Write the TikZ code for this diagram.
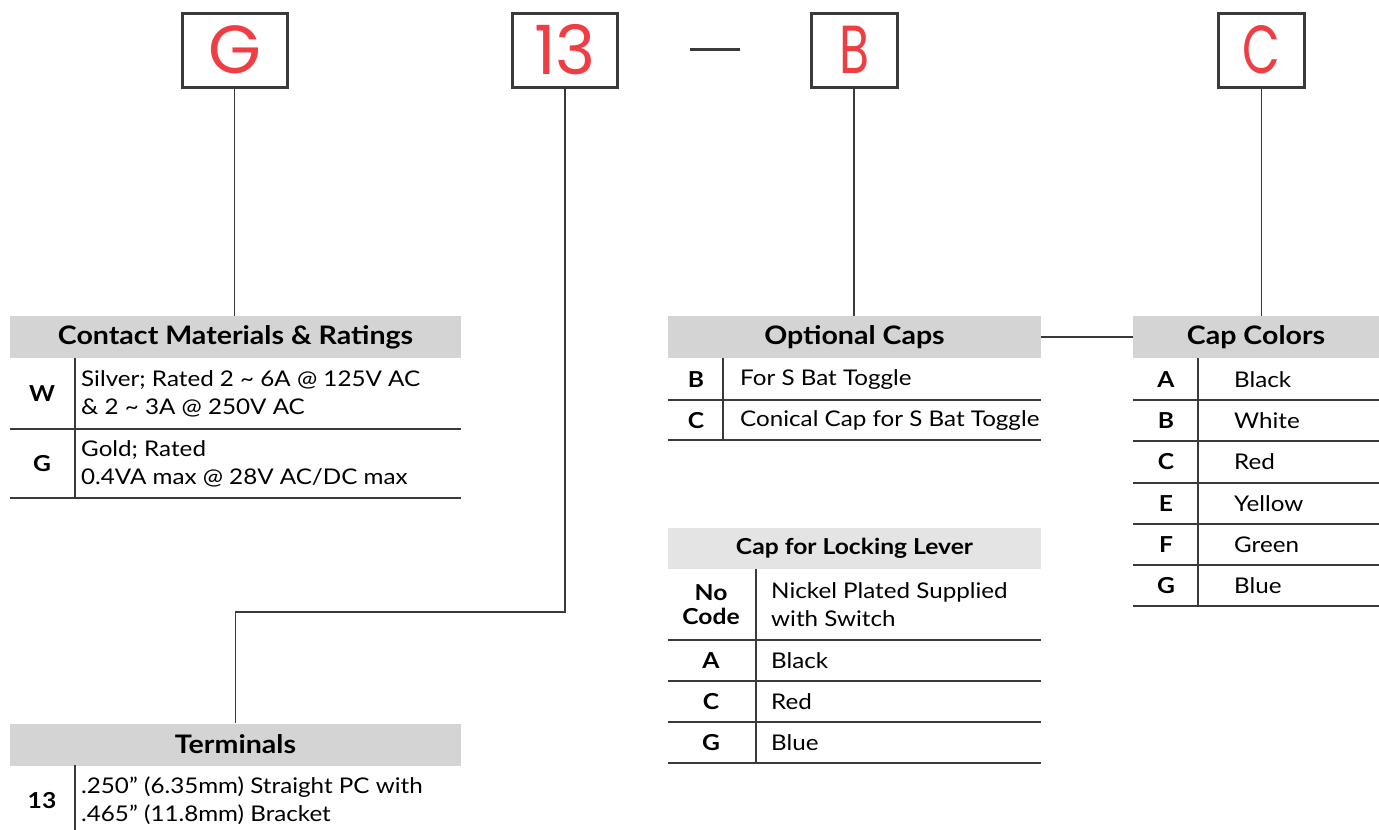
\documentclass[tikz,border=0pt]{standalone}
\usepackage{fontspec}
\setmainfont{Lato}[FakeStretch=1.12]
\newfontfamily\redfont{Poppins}
\newfontfamily\redcond[FakeStretch=0.72]{Poppins}
\usepackage{tikz}
\usetikzlibrary{positioning,calc}
\definecolor{capred}{HTML}{EE3E44}
\definecolor{headgray}{HTML}{D4D4D5}
\definecolor{headlight}{HTML}{E4E4E5}
\definecolor{rulegray}{HTML}{3A3A3A}

\begin{document}
\begin{tikzpicture}[
  x=1pt,y=-1pt,
  part/.style={draw=rulegray,line width=3pt,minimum width=105pt,minimum height=74pt,
    inner sep=0pt,text=capred,font=\redfont\fontsize{68}{68}\selectfont},
  narrowpart/.style={part,minimum width=86pt,font=\redcond\fontsize{68}{68}\selectfont},
  head/.style={fill=headgray,minimum height=42pt,inner sep=0pt,
    font=\bfseries\fontsize{25.5}{25.5}\selectfont},
  smallhead/.style={head,fill=headlight,minimum height=41pt,font=\bfseries\fontsize{22}{22}\selectfont},
  code/.style={font=\bfseries\fontsize{22}{24}\selectfont,align=center},
  desc/.style={anchor=west,inner sep=0pt,align=left,font=\fontsize{21.6}{28}\selectfont},
  rowline/.style={draw=rulegray,line width=1.4pt},
  link/.style={draw=rulegray,line width=1.2pt}]
\useasboundingbox (0,0) rectangle (1379,830);
% part number boxes
\node[part] (pg) at (234.5,50) {G};
\node[part] (p13) at (565,50) {13};
\draw[line width=3pt,rulegray] (690,49) -- (740,49);
\node[narrowpart] (pb) at (854,50) {B};
\node[narrowpart] (pc) at (1261.5,50) {C};
% Contact Materials & Ratings
\node[head,minimum width=451pt] (cmhead) at (235.5,337) {Contact Materials \& Ratings};
\node[code] (cmw) at (42,394) {W};
\node[desc] (cmwt) at (81,394) {Silver; Rated 2 \textasciitilde{} 6A @ 125V AC\\\& 2 \textasciitilde{} 3A @ 250V AC};
\node[code] (cmg) at (42,464) {G};
\node[desc] (cmgt) at (81,464) {Gold; Rated\\0.4VA max @ 28V AC/DC max};
\draw[rowline] (10,429) -- (461,429) (10,498) -- (461,498) (75,358) -- (75,498);
% Optional Caps
\node[head,minimum width=373pt] (ochead) at (854.5,337) {Optional Caps};
\node[code] (ocb) at (696,380) {B};
\node[desc] (ocbt) at (740,380) {For S Bat Toggle};
\node[code] (occ) at (696,421) {C};
\node[desc] (occt) at (740,421) {Conical Cap for S Bat Toggle};
\draw[rowline] (668,400) -- (1041,400) (668,440) -- (1041,440) (723,358) -- (723,440);
% Cap Colors
\node[head,minimum width=246pt] (cchead) at (1256,337) {Cap Colors};
\node[code] (cca) at (1166,380) {A};  \node[desc] (ccat) at (1234,380) {Black};
\node[code] (ccb) at (1166,421) {B};  \node[desc] (ccbt) at (1234,421) {White};
\node[code] (ccc) at (1166,462) {C};  \node[desc] (ccct) at (1234,462) {Red};
\node[code] (cce) at (1166,504) {E};  \node[desc] (ccet) at (1234,504) {Yellow};
\node[code] (ccf) at (1166,545) {F};  \node[desc] (ccft) at (1234,545) {Green};
\node[code] (ccg) at (1166,586) {G};  \node[desc] (ccgt) at (1234,586) {Blue};
\foreach \y in {400,441,483,524,565,606}
  \draw[rowline] (1133,\y) -- (1379,\y);
\draw[rowline] (1198,358) -- (1198,606);
% Cap for Locking Lever
\node[smallhead,minimum width=373pt] (llhead) at (854.5,548.5) {Cap for Locking Lever};
\node[code] (llno) at (711,605) {No\\Code};
\node[desc] (llnot) at (771,605) {Nickel Plated Supplied\\with Switch};
\node[code] (lla) at (711,661) {A};  \node[desc] (llat) at (771,661) {Black};
\node[code] (llc) at (711,702) {C};  \node[desc] (llct) at (771,702) {Red};
\node[code] (llg) at (711,743) {G};  \node[desc] (llgt) at (771,743) {Blue};
\foreach \y in {640,681,722,763}
  \draw[rowline] (668,\y) -- (1041,\y);
\draw[rowline] (756,569) -- (756,763);
% Terminals
\node[head,minimum width=451pt] (tmhead) at (235.5,744.5) {Terminals};
\node[code] (tm13) at (42,801) {13};
\node[desc] (tm13t) at (81,801) {.250" (6.35mm) Straight PC with\\.465" (11.8mm) Bracket};
\draw[rowline] (75,765) -- (75,830);
% leaders
\coordinate (bend) at (565,612);
\draw[link] (pg.south) -- (pg.south |- cmhead.north);
\draw[link] (p13.south) -- (bend) -| (tmhead.north);
\draw[link] (pb.south) -- (pb.south |- ochead.north);
\draw[link] (pc.south) -- (pc.south |- cchead.north);
\draw[link] (ochead.east) -- (cchead.west);
\end{tikzpicture}
\end{document}
